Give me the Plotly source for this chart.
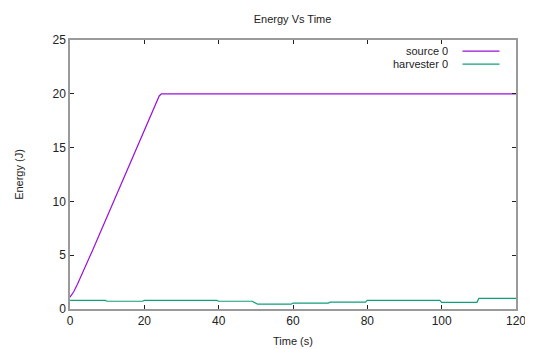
import plotly.graph_objects as go

source_t = [0, 1, 2, 4, 6, 8, 10, 12, 14, 16, 18, 20, 22, 24, 24.6, 120]
source_e = [1.1, 1.6, 2.3, 3.8, 5.4, 7.0, 8.6, 10.2, 11.8, 13.4, 15.0, 16.6, 18.2, 19.8, 20.0, 20.0]

harv_t = [0, 9.5, 10, 19.5, 20, 39.5, 40, 49, 50.5, 59.5, 60, 69.5, 70, 79.5, 80, 99.5, 100, 109.5, 110, 120]
harv_e = [0.8, 0.8, 0.72, 0.72, 0.8, 0.8, 0.72, 0.72, 0.45, 0.45, 0.55, 0.55, 0.63, 0.63, 0.8, 0.8, 0.62, 0.62, 0.98, 0.98]

x_ticks = [0, 20, 40, 60, 80, 100, 120]
y_ticks = [0, 5, 10, 15, 20, 25]

names = ["source 0", "harvester 0"]
colors = ["#9a10dc", "#10a07a"]

fig = go.Figure()
fig.add_trace(go.Scatter(x=source_t, y=source_e, mode="lines", name=names[0],
                         line=dict(color=colors[0], width=1.2), showlegend=False))
fig.add_trace(go.Scatter(x=harv_t, y=harv_e, mode="lines", name=names[1],
                         line=dict(color=colors[1], width=1.2), showlegend=False))

font = dict(family="Liberation Sans, Arial, sans-serif", size=11, color="#222")

axis_common = dict(showgrid=False, zeroline=False, showline=True, linecolor="#9a9a9a",
                   linewidth=1.5, mirror="allticks", ticks="inside", ticklen=4,
                   tickcolor="#222", tickwidth=1, tickfont=dict(size=12, color="#222"),
                   automargin=False)

# page body adds an 8px offset, so the figure is sized 8px smaller than the window
fig.update_layout(
    width=525, height=341,
    margin=dict(l=62, r=17, t=32, b=40),
    paper_bgcolor="white", plot_bgcolor="white",
    font=font,
    title=dict(text="Energy Vs Time", x=0.542, xanchor="center", y=0.966, yanchor="middle",
               font=dict(size=11, color="#222"), automargin=False),
    xaxis=dict(range=[0, 120], tickvals=x_ticks,
               title=dict(text="Time (s)", standoff=10, font=dict(size=11)), **axis_common),
    yaxis=dict(range=[0, 25], tickvals=y_ticks,
               title=dict(text="Energy (J)", standoff=27, font=dict(size=11)), **axis_common),
)

legend_y = [0.959, 0.910]
for name, color, ly in zip(names, colors, legend_y):
    fig.add_annotation(x=0.853, y=ly, xref="paper", yref="paper", text=name,
                       showarrow=False, xanchor="right", yanchor="middle",
                       font=dict(size=11, color="#222"))
    fig.add_shape(type="line", xref="paper", yref="paper", x0=0.880, x1=0.963,
                  y0=ly, y1=ly, line=dict(color=color, width=1.2))

fig.write_html("out.html")
